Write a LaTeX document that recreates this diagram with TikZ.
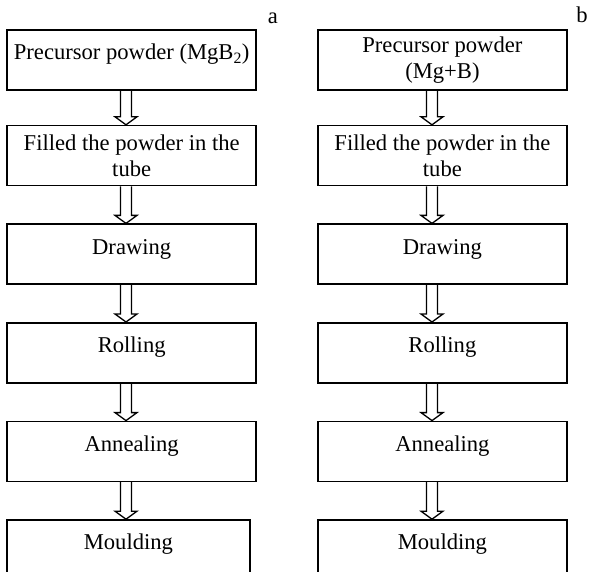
\documentclass[tikz,border=0pt]{standalone}
\usepackage{fontspec}
\setmainfont{Liberation Serif}
\usetikzlibrary{positioning,calc}

\newcommand{\flowarrow}[3]{%
  \draw[arrowline] let \p1=($(#1.south)+(#3,0)$), \p2=(#2.north) in
    (\x1-5.5pt,\y1) -- (\x1-5.5pt,\y2+8pt) -- (\x1-11pt,\y2+8pt) -- (\x1,\y2)
    -- (\x1+11pt,\y2+8pt) -- (\x1+5.5pt,\y2+8pt) -- (\x1+5.5pt,\y1);}

\begin{document}
\begin{tikzpicture}[
x=1pt, y=1pt,
every node/.style = {font=\fontsize{22.6pt}{26pt}\selectfont},
box/.style = {draw, line width=1.6pt, minimum width=249pt, minimum height=60pt,
              inner sep=0pt, align=center},
oneline/.style = {text height=15pt, text depth=15pt},
arrowline/.style = {line width=1.3pt},
]
\useasboundingbox (0,0) rectangle (589,-572);

% column a
\node[box, oneline] (a1) at (131.7,-60) {Precursor powder (MgB\textsubscript{2})};
\node[box] (a2) [below=34pt of a1] {Filled the powder in the\\tube};
\node[box, oneline] (a3) [below=37pt of a2] {Drawing};
\node[box, oneline] (a4) [below=37pt of a3] {Rolling};
\node[box, oneline] (a5) [below=37pt of a4] {Annealing};
\node[box, oneline, minimum width=243pt, minimum height=58pt] (a6)
  [below=37pt of a5, xshift=-3.3pt] {Moulding};
\node[anchor=base] (la) at (273,-24) {a};

% column b
\node[box] (b1) at (442.4,-60) {Precursor powder\\(Mg+B)};
\node[box] (b2) [below=34pt of b1] {Filled the powder in the\\tube};
\node[box, oneline] (b3) [below=37pt of b2] {Drawing};
\node[box, oneline] (b4) [below=37pt of b3] {Rolling};
\node[box, oneline] (b5) [below=37pt of b4] {Annealing};
\node[box, oneline, minimum height=58pt] (b6) [below=37pt of b5] {Moulding};
\node[anchor=base] (lb) at (582,-23) {b};

\flowarrow{a1}{a2}{-5.7}
\flowarrow{a2}{a3}{-5.7}
\flowarrow{a3}{a4}{-5.7}
\flowarrow{a4}{a5}{-5.7}
\flowarrow{a5}{a6}{-5.7}

\flowarrow{b1}{b2}{-10.4}
\flowarrow{b2}{b3}{-10.4}
\flowarrow{b3}{b4}{-10.4}
\flowarrow{b4}{b5}{-10.4}
\flowarrow{b5}{b6}{-10.4}
\end{tikzpicture}
\end{document}
